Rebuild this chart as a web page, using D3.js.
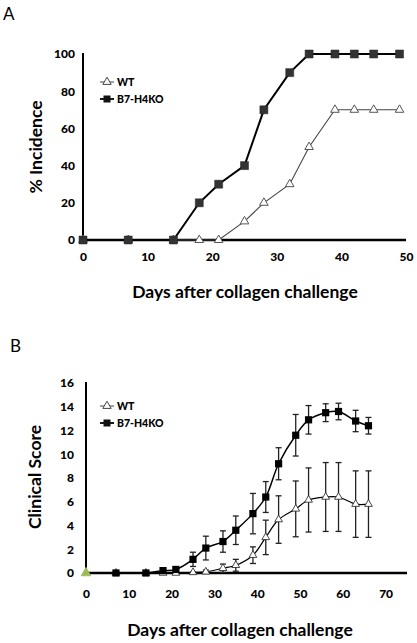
<!DOCTYPE html>
<html><head><meta charset="utf-8">
<script src="https://cdn.jsdelivr.net/npm/d3@7"></script>
<style>body{margin:0;background:#fff}svg{display:block}text{font-family:Lato,"Open Sans",sans-serif}</style>
</head><body>
<svg id="c" width="417" height="643"></svg>
<script>
// ---- Panel A data ----
const daysA = [0,7,14,18,21,25,28,32,35,39,42,45,49];
const koA   = [0,0,0,20,30,40,70,90,100,100,100,100,100];
const wtA   = [0,0,0,0,0,10,20,30,50,70,70,70,70];
const ticksAx = [0,10,20,30,40,50];
const ticksAy = [0,20,40,60,80,100];
// ---- Panel B data ----
const daysB = [0,7,14,18,21,25,28,32,35,39,42,45,49,52,56,59,63,66];
const koB   = [0,0,0,0.2,0.3,1.15,2.1,2.65,3.6,5.0,6.4,9.2,11.6,12.9,13.5,13.6,12.8,12.4];
const koBerr= [0,0,0,0.15,0.2,0.6,1.0,0.9,1.2,1.7,1.3,1.35,1.75,1.2,0.75,0.7,0.9,0.7];
const wtB   = [0,0,0,0,0,0.05,0.1,0.4,0.65,1.5,3.0,4.5,5.4,6.15,6.4,6.4,5.8,5.8];
const wtBerr= [0,0,0,0,0,0.05,0.15,0.35,0.5,0.7,1.45,2.0,2.35,2.7,2.9,2.9,2.8,2.8];
const ticksBx = [0,10,20,30,40,50,60,70];
const ticksBy = [0,2,4,6,8,10,12,14,16];
const seriesNames = ["WT","B7-H4KO"];
const xTitle = "Days after collagen challenge";

const svg = d3.select("#c");
const tri = d3.symbol().type(d3.symbolTriangle);
const sq = d3.symbol().type(d3.symbolSquare);

function axes(g, x, y, xt, yt, xPad, yPad){
  const ax = g.append("g").attr("transform",`translate(0,${y.range()[0]})`)
    .call(d3.axisBottom(x).tickValues(xt).tickSize(0).tickPadding(xPad).tickSizeOuter(0));
  const ay = g.append("g").attr("transform",`translate(${x.range()[0]},0)`)
    .call(d3.axisLeft(y).tickValues(yt).tickSize(0).tickPadding(yPad).tickSizeOuter(0));
  [ax,ay].forEach(a=>{
    a.selectAll("text").attr("font-size",12).attr("font-weight","900").attr("fill","#000");
    a.select(".domain").remove();
  });
  g.append("line").attr("x1",x.range()[0]).attr("x2",x.range()[1])
    .attr("y1",y.range()[0]).attr("y2",y.range()[0]).attr("stroke","#000").attr("stroke-width",2.5);
  g.append("line").attr("x1",x.range()[0]).attr("x2",x.range()[0])
    .attr("y1",y.range()[0]).attr("y2",y.range()[1]-1).attr("stroke","#000").attr("stroke-width",2);
}

function legend(g, lx, ly1, ly2){
  const items = [[seriesNames[0],ly1,"tri"],[seriesNames[1],ly2,"sq"]];
  items.forEach(([t,yy,s])=>{
    g.append("line").attr("x1",lx-7).attr("x2",lx+7).attr("y1",yy).attr("y2",yy)
      .attr("stroke", s==="tri"?"#444":"#000").attr("stroke-width",s==="tri"?1:1.8);
    if(s==="tri") g.append("path").attr("d",tri.size(30)()).attr("transform",`translate(${lx},${yy})`)
      .attr("fill","#fff").attr("stroke","#444").attr("stroke-width",1);
    else g.append("path").attr("d",sq.size(49)()).attr("transform",`translate(${lx},${yy})`).attr("fill","#111");
    g.append("text").attr("x",lx+10).attr("y",yy).attr("dy","0.35em").attr("font-size",10.5)
      .attr("font-weight","900").text(t);
  });
}

// ---- Panel A ----
{
  const g = svg.append("g");
  const x = d3.scaleLinear().domain([0,50]).range([83,406]);
  const y = d3.scaleLinear().domain([0,100]).range([240,54]);
  axes(g,x,y,ticksAx,ticksAy,12,8);
  const line = d3.line().x(d=>x(d[0])).y(d=>y(d[1]));
  const wt = daysA.map((d,i)=>[d,wtA[i]]);
  const ko = daysA.map((d,i)=>[d,koA[i]]);
  g.append("path").datum(wt).attr("d",line).attr("fill","none").attr("stroke","#444").attr("stroke-width",1.1);
  g.append("path").datum(ko).attr("d",line).attr("fill","none").attr("stroke","#000").attr("stroke-width",2);
  g.selectAll(".ta").data(wt).join("path").attr("d",tri.size(32)())
    .attr("transform",d=>`translate(${x(d[0])},${y(d[1])})`).attr("fill","#fff").attr("stroke","#555").attr("stroke-width",1);
  g.selectAll(".sa").data(ko).join("path").attr("d",sq.size(64)())
    .attr("transform",d=>`translate(${x(d[0])},${y(d[1])})`).attr("fill","#333").attr("stroke","#222").attr("stroke-width",0.5);
  legend(g,107,82,99);
  g.append("text").attr("transform","translate(42,147) rotate(-90)").attr("text-anchor","middle")
    .attr("font-size",17.5).attr("font-weight","bold").text("% Incidence");
  g.append("text").attr("x",245).attr("y",298).attr("text-anchor","middle")
    .attr("font-size",17.5).attr("font-weight","bold").text(xTitle);
  g.append("text").attr("x",3).attr("y",20).attr("font-size",17).text("A");
}

// ---- Panel B ----
{
  const g = svg.append("g");
  const x = d3.scaleLinear().domain([0,75]).range([86,407]);
  const y = d3.scaleLinear().domain([0,16]).range([573,383]);
  axes(g,x,y,ticksBx,ticksBy,16,12);
  const line = d3.line().x(d=>x(d[0])).y(d=>y(d[1])).curve(d3.curveCatmullRom.alpha(0.5));
  const wt = daysB.map((d,i)=>[d,wtB[i],wtBerr[i]]);
  const ko = daysB.map((d,i)=>[d,koB[i],koBerr[i]]);
  [wt,ko].forEach(data=>{
    const eb = data.filter(d=>d[2]>0);
    g.selectAll(null).data(eb).join("line").attr("x1",d=>x(d[0])).attr("x2",d=>x(d[0]))
      .attr("y1",d=>y(d[1]+d[2])).attr("y2",d=>y(Math.max(0,d[1]-d[2]))).attr("stroke","#222").attr("stroke-width",1.3);
    g.selectAll(null).data(eb.flatMap(d=>[[d[0],d[1]+d[2]],[d[0],Math.max(0,d[1]-d[2])]])).join("line")
      .attr("x1",d=>x(d[0])-3).attr("x2",d=>x(d[0])+3).attr("y1",d=>y(d[1])).attr("y2",d=>y(d[1]))
      .attr("stroke","#222").attr("stroke-width",1.3);
  });
  g.append("path").datum(ko).attr("d",line).attr("fill","none").attr("stroke","#000").attr("stroke-width",1.5);
  g.append("path").datum(wt).attr("d",line).attr("fill","none").attr("stroke","#000").attr("stroke-width",1.2);
  g.selectAll(".tb").data(wt.slice(1)).join("path").attr("d",tri.size(26)())
    .attr("transform",d=>`translate(${x(d[0])},${y(d[1])})`)
    .attr("fill","#fff").attr("stroke","#333").attr("stroke-width",0.9);
  g.selectAll(".sb").data(ko.slice(1)).join("path").attr("d",sq.size(52)())
    .attr("transform",d=>`translate(${x(d[0])},${y(d[1])})`).attr("fill","#000");
  g.selectAll(".tb0").data(wt.slice(0,1)).join("path").attr("d",tri.size(40)())
    .attr("transform",d=>`translate(${x(d[0])},${y(d[1])})`)
    .attr("fill","#9bbb59").attr("stroke","#9bbb59").attr("stroke-width",0.9);
  legend(g,107,406,423);
  g.append("text").attr("transform","translate(41,477) rotate(-90)").attr("text-anchor","middle")
    .attr("font-size",17.5).attr("font-weight","bold").text("Clinical Score");
  g.append("text").attr("x",240).attr("y",636).attr("text-anchor","middle")
    .attr("font-size",17.5).attr("font-weight","bold").text(xTitle);
  g.append("text").attr("x",10).attr("y",352).attr("font-size",17).text("B");
}
</script>
</body></html>
